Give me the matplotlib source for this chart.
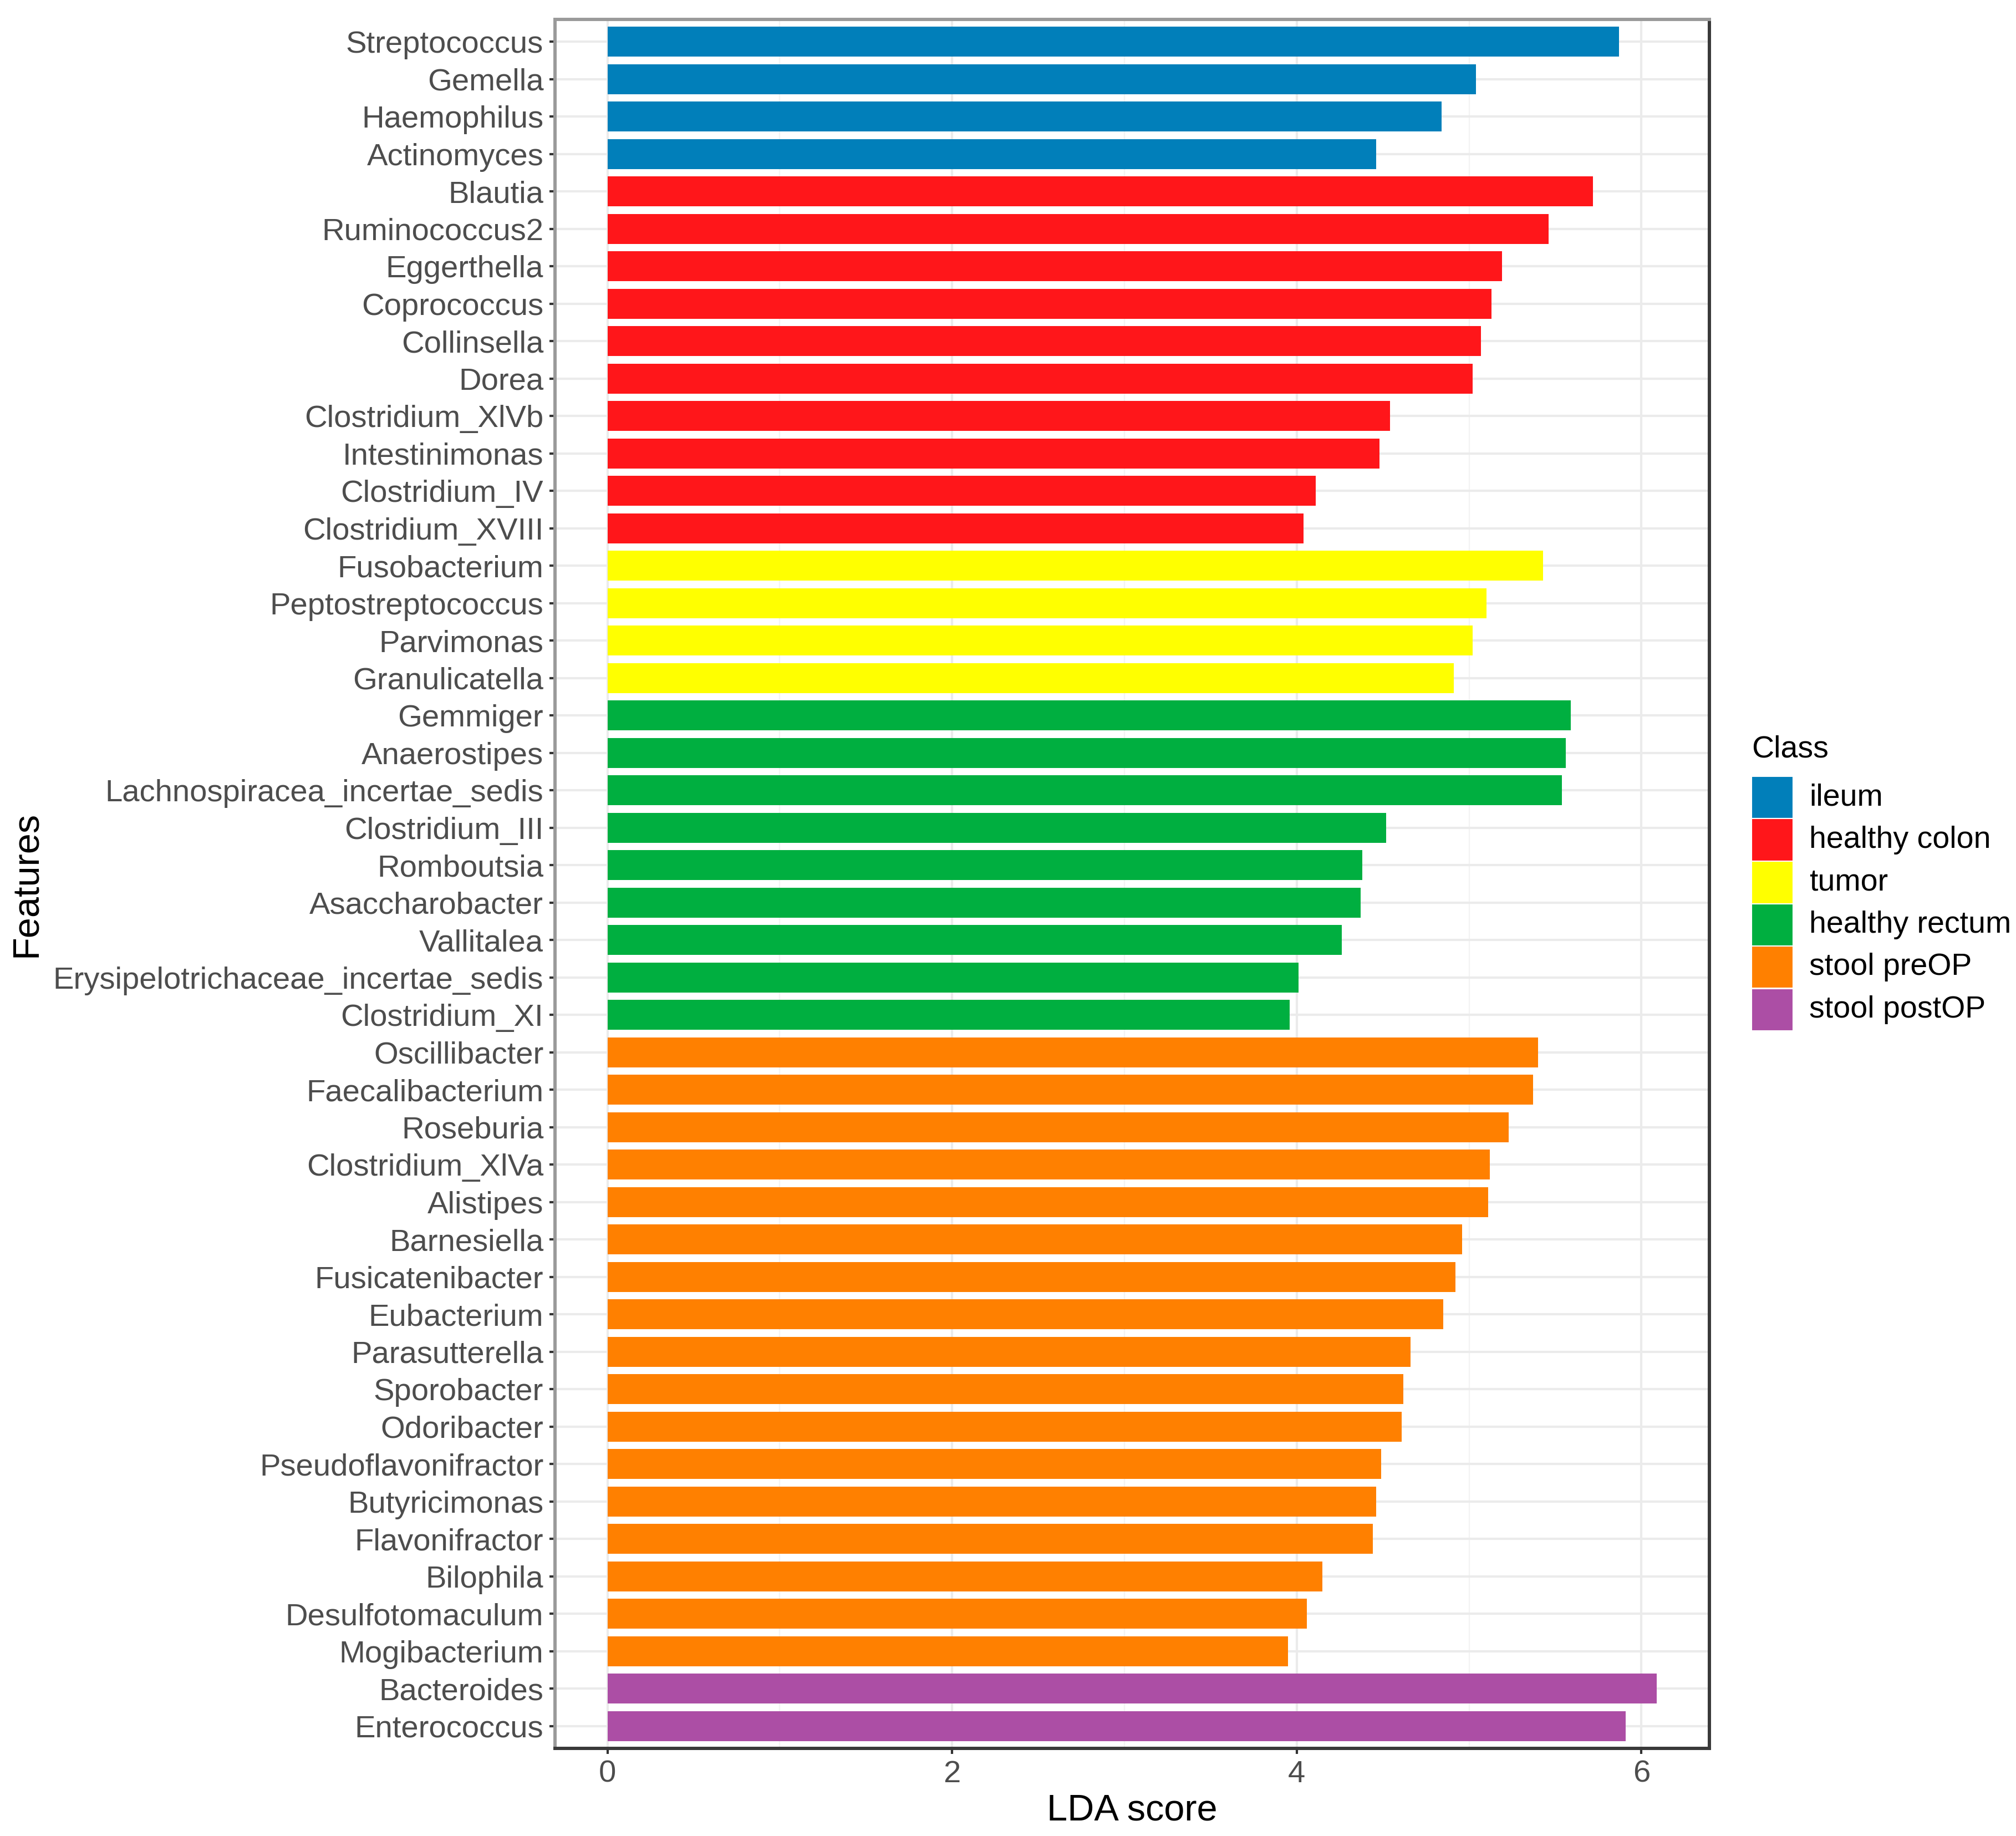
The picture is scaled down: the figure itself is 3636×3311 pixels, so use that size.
import numpy as np
import matplotlib
matplotlib.use("Agg")
import matplotlib.pyplot as plt
from matplotlib.patches import Rectangle

plt.rcParams["font.family"] = ["Liberation Sans", "DejaVu Sans"]

# ---------- data (top to bottom) ----------
features = [
    "Streptococcus", "Gemella", "Haemophilus", "Actinomyces",
    "Blautia", "Ruminococcus2", "Eggerthella", "Coprococcus", "Collinsella",
    "Dorea", "Clostridium_XlVb", "Intestinimonas", "Clostridium_IV",
    "Clostridium_XVIII",
    "Fusobacterium", "Peptostreptococcus", "Parvimonas", "Granulicatella",
    "Gemmiger", "Anaerostipes", "Lachnospiracea_incertae_sedis",
    "Clostridium_III", "Romboutsia", "Asaccharobacter", "Vallitalea",
    "Erysipelotrichaceae_incertae_sedis", "Clostridium_XI",
    "Oscillibacter", "Faecalibacterium", "Roseburia", "Clostridium_XlVa",
    "Alistipes", "Barnesiella", "Fusicatenibacter", "Eubacterium",
    "Parasutterella", "Sporobacter", "Odoribacter", "Pseudoflavonifractor",
    "Butyricimonas", "Flavonifractor", "Bilophila", "Desulfotomaculum",
    "Mogibacterium",
    "Bacteroides", "Enterococcus",
]
lda_scores = [
    5.87, 5.04, 4.84, 4.46,
    5.72, 5.46, 5.19, 5.13, 5.07, 5.02, 4.54, 4.48, 4.11, 4.04,
    5.43, 5.10, 5.02, 4.91,
    5.59, 5.56, 5.54, 4.52, 4.38, 4.37, 4.26, 4.01, 3.96,
    5.40, 5.37, 5.23, 5.12, 5.11, 4.96, 4.92, 4.85, 4.66, 4.62, 4.61,
    4.49, 4.46, 4.44, 4.15, 4.06, 3.95,
    6.09, 5.91,
]
feature_class = (
    ["ileum"] * 4 + ["healthy colon"] * 10 + ["tumor"] * 4
    + ["healthy rectum"] * 9 + ["stool preOP"] * 17 + ["stool postOP"] * 2
)
classes = ["ileum", "healthy colon", "tumor", "healthy rectum",
           "stool preOP", "stool postOP"]
class_colors = ["#017FBA", "#FF161A", "#FFFF00", "#00AF40",
                "#FF8000", "#AC4EA5"]
x_ticks = [0, 2, 4, 6]

# ---------- figure ----------
W, H = 3637, 3311
fig = plt.figure(figsize=(W / 100, H / 100), dpi=100)
ax = fig.add_axes([1001 / W, 1 - 3153 / H, (3083 - 1001) / W, (3153 - 35) / H])

cmap = dict(zip(classes, class_colors))
ypos = np.arange(len(features))
ax.barh(ypos, lda_scores, height=0.8,
        color=[cmap[c] for c in feature_class], zorder=3)

xmax = max(lda_scores)
ax.set_xlim(-0.05 * xmax, 1.05 * xmax)
ax.set_ylim(len(features) - 1 + 0.6, -0.6)

ax.set_yticks(ypos)
ax.set_yticklabels(features)
ax.set_xticks(x_ticks)
ax.set_xticks([1, 3, 5], minor=True)

# grid like theme_bw
ax.grid(True, which="major", color="#EBEBEB", linewidth=3.0, zorder=0)
ax.grid(True, which="minor", axis="x", color="#F3F3F3", linewidth=1.6, zorder=0)
ax.set_axisbelow(True)

ax.tick_params(axis="both", which="major", length=7, width=3, color="#333333",
               labelcolor="#4D4D4D", labelsize=40.5)
ax.tick_params(axis="y", pad=8)
ax.tick_params(axis="x", pad=8)
ax.tick_params(which="minor", length=0)

for side in ["left", "top"]:
    ax.spines[side].set_color("#9A9A9A")
    ax.spines[side].set_linewidth(4.3)
for side in ["bottom", "right"]:
    ax.spines[side].set_color("#3A3A3A")
    ax.spines[side].set_linewidth(4.3)

ax.set_xlabel("LDA score", fontsize=48, color="black", va="top")
ax.xaxis.set_label_coords(0.5, -0.026)
ax.set_ylabel("Features", fontsize=48, color="black")
ax.yaxis.set_label_coords(-0.443, 0.5)

# ---------- legend (ggplot style) ----------
key_x, key_w, key_h = 3159, 75, 76.5
key_top = 1400
fig.text(key_x / W, 1 - 1325 / H, "Class", fontsize=40, color="black",
         ha="left", va="top")
for i, (cls, col) in enumerate(zip(classes, class_colors)):
    y0 = key_top + i * key_h
    fig.add_artist(Rectangle((key_x / W, 1 - (y0 + key_h) / H), key_w / W, key_h / H,
                             transform=fig.transFigure, facecolor=col,
                             edgecolor="white", linewidth=1.5))
    fig.text(3263 / W, 1 - (y0 + key_h / 2) / H, cls, fontsize=40,
             color="black", ha="left", va="center")

fig.savefig("out.png", dpi=100, facecolor="white")
